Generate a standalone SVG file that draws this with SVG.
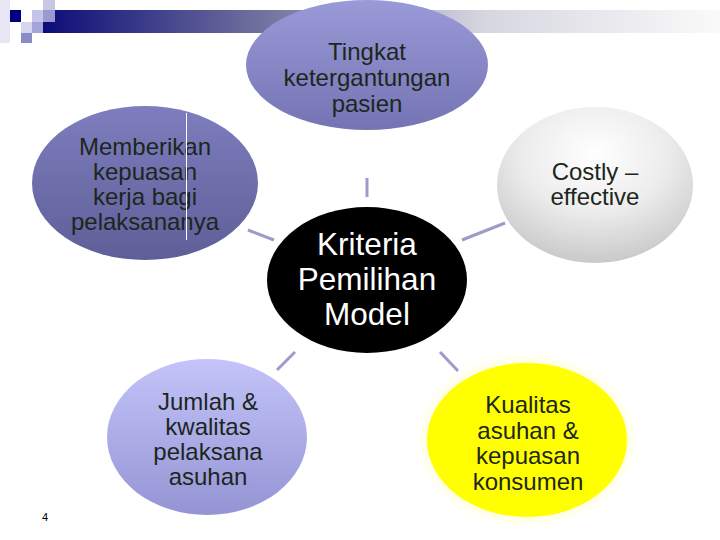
<svg xmlns="http://www.w3.org/2000/svg" width="720" height="540" viewBox="0 0 720 540">
<defs>
<linearGradient id="bar" x1="0" y1="0" x2="1" y2="0">
<stop offset="0" stop-color="#0c0c78"/>
<stop offset="0.3" stop-color="#6a6a9c"/>
<stop offset="0.65" stop-color="#d6d6e0"/>
<stop offset="1" stop-color="#fafafa"/>
</linearGradient>
<linearGradient id="gTop" x1="0" y1="0" x2="0" y2="1">
<stop offset="0" stop-color="#9a9ad8"/>
<stop offset="1" stop-color="#7474b4"/>
</linearGradient>
<linearGradient id="gLeft" x1="0" y1="0" x2="0" y2="1">
<stop offset="0" stop-color="#7e7ebe"/>
<stop offset="1" stop-color="#5e5e98"/>
</linearGradient>
<radialGradient id="gRight" cx="0.5" cy="0.3" r="0.75">
<stop offset="0" stop-color="#ffffff"/>
<stop offset="0.5" stop-color="#ececec"/>
<stop offset="1" stop-color="#c4c4c4"/>
</radialGradient>
<linearGradient id="gJum" x1="0" y1="0" x2="0" y2="1">
<stop offset="0" stop-color="#c4c4fa"/>
<stop offset="1" stop-color="#9494d4"/>
</linearGradient>
<filter id="glow" x="-20%" y="-20%" width="140%" height="140%">
<feGaussianBlur stdDeviation="4"/>
</filter>
<style>
.t{font-family:"Liberation Sans",Arial,sans-serif;font-size:24px;fill:#1c261c;text-anchor:middle}
.w{font-family:"Liberation Sans",Arial,sans-serif;font-size:31.5px;fill:#ffffff;text-anchor:middle}
.c{stroke:#9c9cc8;stroke-width:3;fill:none}
</style>
</defs>
<rect width="720" height="540" fill="#ffffff"/>
<g id="decor">
<rect x="0" y="0" width="10" height="43" fill="#e6e6f4"/>
<rect x="43" y="10" width="677" height="23" fill="url(#bar)"/>
<rect x="10" y="10" width="11" height="12" fill="#000080"/>
<rect x="43" y="0" width="12" height="10" fill="#c8c8e6"/>
<rect x="32" y="10" width="11" height="12" fill="#c4c4e8"/>
<rect x="43" y="10" width="12" height="12" fill="#9a9ad0"/>
<rect x="21" y="22" width="11" height="11" fill="#d6d6ee"/>
<rect x="32" y="22" width="11" height="11" fill="#a4a4d8"/>
<rect x="21" y="33" width="11" height="10" fill="#8a8ac4"/>
</g>
<g id="connectors">
<line class="c" x1="367" y1="178" x2="367" y2="197"/>
<line class="c" x1="248" y1="230" x2="274" y2="240"/>
<line class="c" x1="462" y1="240" x2="505" y2="223"/>
<line class="c" x1="277" y1="370" x2="295" y2="352"/>
<line class="c" x1="440" y1="352" x2="458" y2="371"/>
</g>
<g id="node-top">
<ellipse cx="367" cy="65" rx="121" ry="65" fill="url(#gTop)"/>
<text class="t" x="367" y="60">Tingkat</text>
<text class="t" x="367" y="86">ketergantungan</text>
<text class="t" x="367" y="112">pasien</text>
</g>
<g id="node-left">
<ellipse cx="145" cy="183" rx="113" ry="77" fill="url(#gLeft)"/>
<text class="t" x="145" y="155">Memberikan</text>
<text class="t" x="145" y="180">kepuasan</text>
<text class="t" x="145" y="205">kerja bagi</text>
<text class="t" x="145" y="230">pelaksananya</text>
<line x1="186.5" y1="113" x2="186.5" y2="240" stroke="#ffffff" stroke-width="1"/>
</g>
<g id="node-right">
<ellipse cx="595" cy="185" rx="98" ry="78" fill="url(#gRight)"/>
<text class="t" x="595" y="180">Costly –</text>
<text class="t" x="595" y="205">effective</text>
</g>
<g id="node-center">
<ellipse cx="367" cy="280" rx="100" ry="73" fill="#000000"/>
<text class="w" x="367" y="255">Kriteria</text>
<text class="w" x="367" y="290">Pemilihan</text>
<text class="w" x="367" y="325">Model</text>
</g>
<g id="node-jumlah">
<ellipse cx="207" cy="437" rx="100" ry="78" fill="url(#gJum)"/>
<text class="t" x="208" y="410">Jumlah &amp;</text>
<text class="t" x="208" y="435">kwalitas</text>
<text class="t" x="208" y="460">pelaksana</text>
<text class="t" x="208" y="485">asuhan</text>
</g>
<g id="node-kualitas">
<ellipse cx="527" cy="440" rx="104" ry="81" fill="#ffffc8" opacity="0.7" filter="url(#glow)"/>
<ellipse cx="527" cy="440" rx="100" ry="77" fill="#ffff00"/>
<text class="t" x="528" y="413">Kualitas</text>
<text class="t" x="528" y="438.5">asuhan &amp;</text>
<text class="t" x="528" y="464">kepuasan</text>
<text class="t" x="528" y="489.5">konsumen</text>
</g>
<text x="45" y="521" font-family="'Liberation Sans',Arial,sans-serif" font-size="11" fill="#000000" text-anchor="middle">4</text>
</svg>
